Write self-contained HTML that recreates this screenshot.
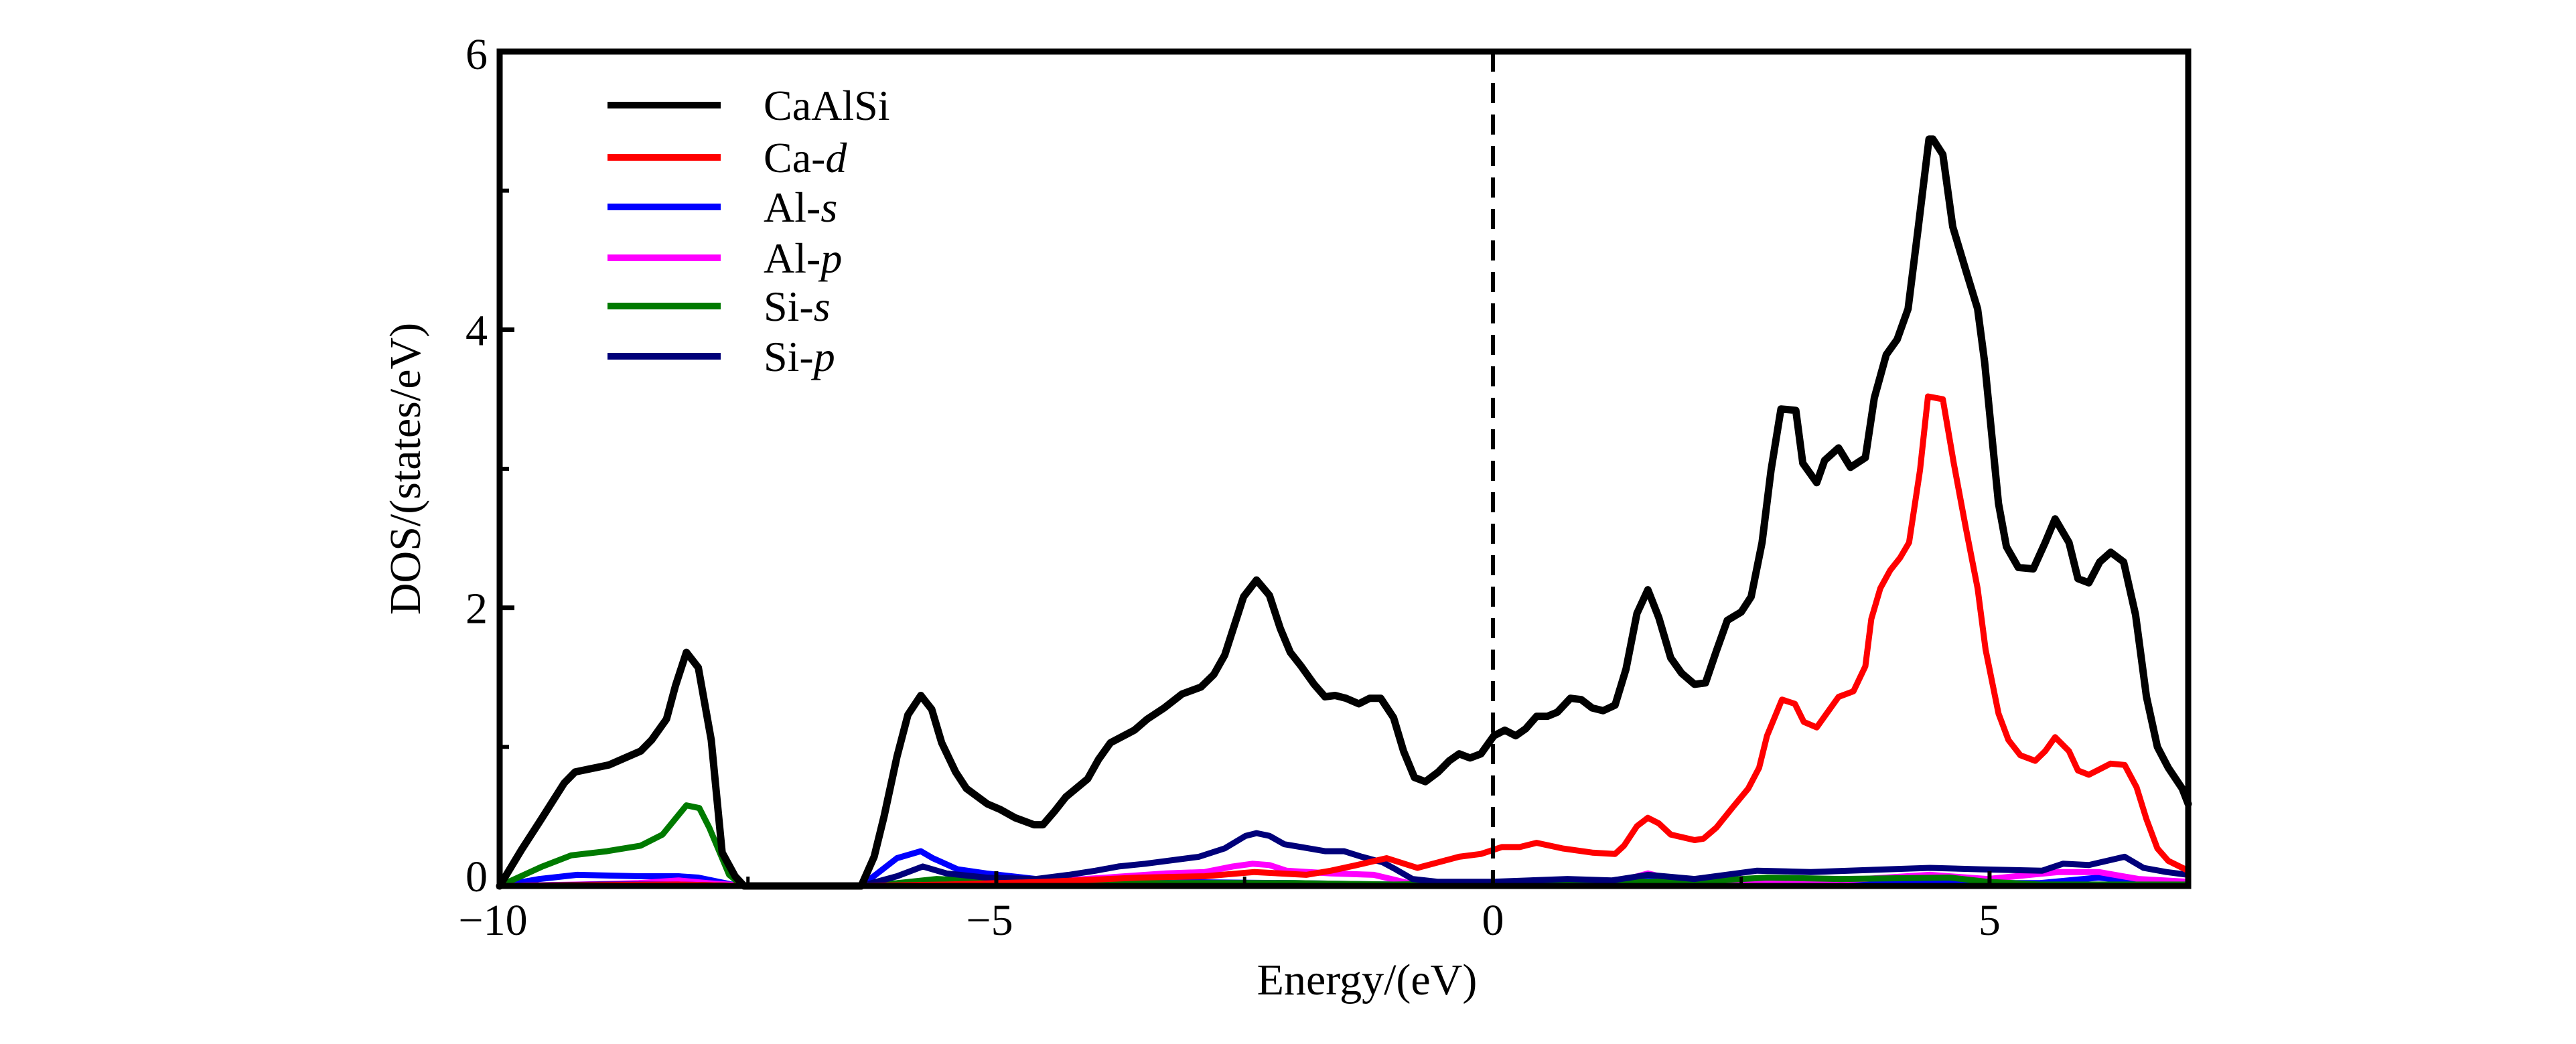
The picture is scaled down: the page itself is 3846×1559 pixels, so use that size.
<!DOCTYPE html>
<html><head><meta charset="utf-8"><style>
html,body{margin:0;padding:0;background:#fff;}
svg{display:block;}
text{font-family:"Liberation Serif",serif;fill:#000;}
</style></head><body>
<svg id="chart" width="3846" height="1559" viewBox="0 0 3846 1559" xmlns="http://www.w3.org/2000/svg"></svg>
<script>
// ---- data ----
const xTicks = [-10, -5, 0, 5];
const xMinorTicks = [-7.5, -2.5, 2.5];
const yTicks = [0, 2, 4, 6];
const yMinorTicks = [1, 3, 5];
const seriesNames = ["CaAlSi", "Ca-d", "Al-s", "Al-p", "Si-s", "Si-p"];

const totE = [-10,-9.78,-9.59,-9.35,-9.24,-8.9,-8.58,-8.47,-8.32,-8.23,-8.12,-8.0,-7.87,-7.76,-7.63,-7.54,-6.36,-6.23,-6.13,-6.0,-5.89,-5.76,-5.65,-5.55,-5.41,-5.3,-5.09,-4.96,-4.81,-4.62,-4.53,-4.41,-4.3,-4.08,-3.97,-3.85,-3.61,-3.48,-3.31,-3.13,-2.94,-2.81,-2.7,-2.51,-2.38,-2.25,-2.14,-2.04,-1.93,-1.8,-1.69,-1.59,-1.48,-1.35,-1.24,-1.13,-1.0,-0.9,-0.79,-0.68,-0.55,-0.44,-0.34,-0.23,-0.12,0.01,0.12,0.23,0.33,0.44,0.55,0.65,0.78,0.89,1.0,1.11,1.23,1.34,1.45,1.56,1.67,1.79,1.9,2.03,2.14,2.25,2.36,2.5,2.6,2.71,2.8,2.9,3.05,3.12,3.26,3.34,3.48,3.6,3.75,3.84,3.96,4.07,4.18,4.28,4.39,4.43,4.53,4.63,4.76,4.88,4.95,5.09,5.17,5.29,5.44,5.56,5.66,5.8,5.89,6.0,6.11,6.22,6.35,6.47,6.58,6.69,6.8,6.94,7.0];
const totV = [0,0.26,0.47,0.74,0.82,0.87,0.97,1.05,1.2,1.44,1.68,1.57,1.05,0.24,0.07,0,0,0.21,0.5,0.93,1.23,1.37,1.27,1.03,0.82,0.7,0.59,0.55,0.49,0.44,0.44,0.54,0.64,0.77,0.91,1.03,1.12,1.2,1.28,1.38,1.43,1.52,1.66,2.08,2.2,2.09,1.85,1.68,1.58,1.45,1.36,1.37,1.35,1.31,1.35,1.35,1.21,0.97,0.78,0.75,0.82,0.9,0.95,0.92,0.95,1.08,1.12,1.08,1.13,1.22,1.22,1.25,1.35,1.34,1.28,1.26,1.3,1.56,1.96,2.13,1.93,1.64,1.53,1.45,1.46,1.69,1.91,1.97,2.08,2.47,2.99,3.43,3.42,3.04,2.9,3.06,3.15,3.01,3.08,3.51,3.82,3.93,4.15,4.72,5.37,5.37,5.26,4.74,4.43,4.15,3.77,2.75,2.44,2.29,2.28,2.47,2.64,2.47,2.21,2.18,2.33,2.4,2.33,1.95,1.36,1.0,0.85,0.7,0.59];

const cadE = [-10,-8.2,-7.5,-6.4,-5.5,-4.5,-3.56,-2.9,-2.4,-1.88,-1.63,-1.37,-1.07,-0.76,-0.55,-0.34,-0.12,0.09,0.27,0.44,0.7,1.0,1.23,1.32,1.45,1.56,1.67,1.79,2.03,2.12,2.25,2.42,2.57,2.68,2.76,2.91,3.04,3.13,3.26,3.37,3.48,3.63,3.75,3.81,3.9,4.0,4.1,4.19,4.3,4.38,4.53,4.64,4.76,4.88,4.96,5.09,5.19,5.31,5.46,5.56,5.66,5.8,5.89,6.0,6.11,6.22,6.36,6.48,6.58,6.69,6.8,7.0];
const cadV = [0,0.01,0,0,0.01,0.03,0.06,0.07,0.1,0.08,0.11,0.15,0.2,0.13,0.17,0.21,0.23,0.28,0.28,0.31,0.27,0.24,0.23,0.29,0.43,0.49,0.45,0.37,0.33,0.34,0.42,0.57,0.7,0.85,1.08,1.34,1.31,1.18,1.14,1.25,1.36,1.4,1.58,1.92,2.14,2.27,2.36,2.47,2.99,3.52,3.5,3.04,2.58,2.14,1.7,1.24,1.05,0.94,0.9,0.97,1.07,0.97,0.83,0.8,0.84,0.88,0.87,0.71,0.48,0.27,0.18,0.11];

const alsE = [-10,-9.6,-9.22,-8.6,-8.2,-8.0,-7.66,-7.5,-6.36,-6.0,-5.76,-5.64,-5.39,-5.1,-4.6,-3.5,-2.0,-1.0,0,1.0,1.56,2.5,3.5,4.5,5.5,6.1,6.5,7.0];
const alsV = [0,0.05,0.08,0.07,0.07,0.06,0.01,0,0,0.2,0.25,0.2,0.12,0.09,0.05,0.03,0.02,0.01,0.02,0.02,0.04,0.02,0.02,0.02,0.02,0.06,0.03,0.02];

const alpE = [-10,-9.2,-8.6,-8.2,-7.9,-7.5,-6.36,-5.8,-5.0,-4.3,-3.9,-3.29,-2.9,-2.62,-2.42,-2.25,-2.08,-1.63,-1.2,-0.85,-0.5,0.5,1.2,1.56,1.9,2.5,3.5,4.4,4.98,5.7,6.1,6.5,7.0];
const alpV = [0,0.01,0.02,0.04,0.02,0,0,0.01,0.02,0.04,0.06,0.09,0.1,0.14,0.16,0.15,0.11,0.09,0.08,0.02,0.01,0.01,0.02,0.09,0.03,0.03,0.04,0.08,0.05,0.1,0.1,0.05,0.03];

const sisE = [-10,-9.57,-9.28,-8.92,-8.58,-8.36,-8.12,-7.99,-7.89,-7.69,-7.55,-6.36,-6.0,-5.6,-5.0,-3.5,-2.0,-1.0,0,1.0,2.0,2.76,3.5,4.6,4.98,5.5,6.5,7.0];
const sisV = [0,0.14,0.22,0.25,0.29,0.37,0.58,0.56,0.42,0.08,0,0,0.02,0.05,0.03,0.02,0.02,0.01,0.02,0.03,0.03,0.06,0.05,0.06,0.03,0.01,0.01,0.01];

const sipE = [-10,-9.0,-8.2,-7.5,-6.36,-6.0,-5.74,-5.5,-5.1,-4.6,-4.27,-4.0,-3.77,-3.5,-2.96,-2.7,-2.49,-2.38,-2.25,-2.1,-1.93,-1.69,-1.5,-1.32,-1.11,-0.98,-0.81,-0.55,0,0.75,1.2,1.56,2.03,2.66,3.2,4.4,4.9,5.53,5.74,6.0,6.36,6.55,6.78,7.0];
const sipV = [0,0.01,0.01,0,0,0.07,0.14,0.09,0.06,0.05,0.08,0.11,0.14,0.16,0.21,0.27,0.36,0.38,0.36,0.3,0.28,0.25,0.25,0.21,0.17,0.12,0.05,0.03,0.03,0.05,0.04,0.08,0.05,0.11,0.1,0.13,0.12,0.11,0.16,0.15,0.21,0.13,0.1,0.08];

// ---- layout ----
const X0 = 746, X1 = 3267, Y0 = 1323, Y1 = 77;
const xMin = -10, xMax = 7, yMin = 0, yMax = 6;
function sx(e){ return X0 + (e - xMin) / (xMax - xMin) * (X1 - X0); }
function sy(v){ return Y0 - (v - yMin) / (yMax - yMin) * (Y0 - Y1); }

const NS = "http://www.w3.org/2000/svg";
const svg = document.getElementById('chart');
function mk(tag, attrs, parent){
  const el = document.createElementNS(NS, tag);
  for (const k in attrs) el.setAttribute(k, attrs[k]);
  (parent || svg).appendChild(el);
  return el;
}

const seriesDefs = [
  {E: totE, V: totV, color: '#000000', w: 11, key: 'caalsi'},
  {E: cadE, V: cadV, color: '#ff0000', w: 9, key: 'ca-d'},
  {E: alsE, V: alsV, color: '#0000ff', w: 9, key: 'al-s'},
  {E: alpE, V: alpV, color: '#ff00ff', w: 9, key: 'al-p'},
  {E: sisE, V: sisV, color: '#007a00', w: 9, key: 'si-s'},
  {E: sipE, V: sipV, color: '#00007a', w: 9, key: 'si-p'}
];
const plotG = mk('g', {});


const order = [2, 3, 4, 5, 1, 0];
order.forEach(i => {
  const s = seriesDefs[i];
  const pts = s.E.map((e, j) => sx(e).toFixed(1) + ',' + sy(s.V[j]).toFixed(1)).join(' ');
  const pl = mk('polyline', {points: pts, fill: 'none', stroke: s.color, 'stroke-width': s.w, 'stroke-linejoin': 'round', 'stroke-linecap': 'round'}, plotG);
  
  
});

const fl = mk('line', {x1: sx(0), y1: Y1, x2: sx(0), y2: Y0, stroke: '#000', 'stroke-width': 6, 'stroke-dasharray': '30,17'});



const fr = mk('rect', {x: X0, y: Y1, width: X1 - X0, height: Y0 - Y1, fill: 'none', stroke: '#000', 'stroke-width': 9});



xTicks.forEach(t => {
  const tk = mk('line', {x1: sx(t), y1: Y0, x2: sx(t), y2: Y0 - 22, stroke: '#000', 'stroke-width': 6});
  
  
  const lb = mk('text', {x: sx(t) - (t < 0 ? 10 : 0), y: 1396, 'font-size': 66, 'text-anchor': 'middle'});
  lb.textContent = t < 0 ? '\u2212' + Math.abs(t) : String(t);
  
  
});
xMinorTicks.forEach(t => {
  const tk = mk('line', {x1: sx(t), y1: Y0, x2: sx(t), y2: Y0 - 14, stroke: '#000', 'stroke-width': 5});
  
  
});
yTicks.forEach(t => {
  const tk = mk('line', {x1: X0, y1: sy(t), x2: X0 + 22, y2: sy(t), stroke: '#000', 'stroke-width': 7});
  
  
  let yy = sy(t) + 23;
  if (t === yMin) yy -= 15;
  if (t === yMax) yy += 3;
  const lb = mk('text', {x: 728, y: yy, 'font-size': 66, 'text-anchor': 'end'});
  lb.textContent = String(t);
  
  
});
yMinorTicks.forEach(t => {
  const tk = mk('line', {x1: X0, y1: sy(t), x2: X0 + 14, y2: sy(t), stroke: '#000', 'stroke-width': 6});
  
  
});

const xt = mk('text', {x: 2041, y: 1485, 'font-size': 66, 'text-anchor': 'middle'});
xt.textContent = 'Energy/(eV)';


const yt = mk('text', {x: 0, y: 0, 'font-size': 66, 'text-anchor': 'middle', transform: 'translate(627,700) rotate(-90)'});
yt.textContent = 'DOS/(states/eV)';



const legendRows = [157, 235, 309, 385, 457, 532];
const legG = mk('g', {});


const legendLabels = [
  ['CaAlSi', ''], ['Ca-', 'd'], ['Al-', 's'], ['Al-', 'p'], ['Si-', 's'], ['Si-', 'p']
];
seriesDefs.forEach((s, i) => {
  const g = mk('g', {}, legG);
  
  
  mk('line', {x1: 907, y1: legendRows[i], x2: 1076, y2: legendRows[i], stroke: s.color, 'stroke-width': 10}, g);
  const t = mk('text', {x: 1140, y: legendRows[i] + 22, 'font-size': 64}, g);
  t.appendChild(document.createTextNode(legendLabels[i][0]));
  if (legendLabels[i][1]) {
    const it = mk('tspan', {'font-style': 'italic'}, t);
    it.textContent = legendLabels[i][1];
  }
});
</script>
</body></html>
